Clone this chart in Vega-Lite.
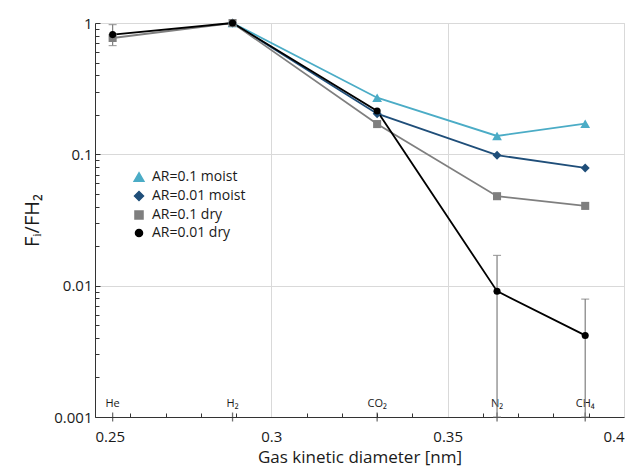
{
  "$schema": "https://vega.github.io/schema/vega-lite/v6.json",
  "width": 529,
  "height": 394,
  "autosize": {"type": "none"},
  "padding": {"left": 95, "top": 23, "right": 10, "bottom": 55},
  "config": {
    "font": "Open Sans",
    "view": {"stroke": "#d9d9d9", "strokeWidth": 1},
    "axis": {"gridColor": "#d9d9d9", "gridWidth": 1, "domainColor": "#333333", "tickColor": "#333333", "labelColor": "#1a1a1a", "titleColor": "#1a1a1a"}
  },
  "datasets": {
    "series": [
      {"gas": "H2", "x": 0.289, "y": 1.0, "series": "AR=0.1 moist"},
      {"gas": "CO2", "x": 0.33, "y": 0.27, "series": "AR=0.1 moist"},
      {"gas": "N2", "x": 0.364, "y": 0.138, "series": "AR=0.1 moist"},
      {"gas": "CH4", "x": 0.389, "y": 0.171, "series": "AR=0.1 moist"},
      {"gas": "H2", "x": 0.289, "y": 1.0, "series": "AR=0.01 moist"},
      {"gas": "CO2", "x": 0.33, "y": 0.204, "series": "AR=0.01 moist"},
      {"gas": "N2", "x": 0.364, "y": 0.0985, "series": "AR=0.01 moist"},
      {"gas": "CH4", "x": 0.389, "y": 0.0788, "series": "AR=0.01 moist"},
      {"gas": "He", "x": 0.255, "y": 0.769, "series": "AR=0.1 dry"},
      {"gas": "H2", "x": 0.289, "y": 1.0, "series": "AR=0.1 dry"},
      {"gas": "CO2", "x": 0.33, "y": 0.17, "series": "AR=0.1 dry"},
      {"gas": "N2", "x": 0.364, "y": 0.048, "series": "AR=0.1 dry"},
      {"gas": "CH4", "x": 0.389, "y": 0.0405, "series": "AR=0.1 dry"},
      {"gas": "He", "x": 0.255, "y": 0.816, "series": "AR=0.01 dry"},
      {"gas": "H2", "x": 0.289, "y": 1.0, "series": "AR=0.01 dry"},
      {"gas": "CO2", "x": 0.33, "y": 0.214, "series": "AR=0.01 dry"},
      {"gas": "N2", "x": 0.364, "y": 0.00908, "series": "AR=0.01 dry"},
      {"gas": "CH4", "x": 0.389, "y": 0.00418, "series": "AR=0.01 dry"}
    ],
    "errors": [
      {"x": 0.255, "lo": 0.673, "hi": 0.972},
      {"x": 0.289, "lo": 0.94, "hi": 1.0},
      {"x": 0.364, "lo": 0.001, "hi": 0.017},
      {"x": 0.389, "lo": 0.001, "hi": 0.0079}
    ],
    "gases": [
      {"x": 0.255, "label": "He"},
      {"x": 0.289, "label": "H₂"},
      {"x": 0.33, "label": "CO₂"},
      {"x": 0.364, "label": "N₂"},
      {"x": 0.389, "label": "CH₄"}
    ]
  },
  "layer": [
    {
      "data": {"name": "gases"},
      "mark": {"type": "tick", "orient": "vertical", "size": 9, "thickness": 1.3, "color": "#333333"},
      "encoding": {
        "x": {"field": "x", "type": "quantitative", "scale": {"domain": [0.25, 0.4], "nice": false, "zero": false},
          "axis": {"orient": "bottom", "values": [0.26, 0.27, 0.28, 0.29, 0.31, 0.32, 0.33, 0.34, 0.36, 0.37, 0.38, 0.39], "labels": false, "grid": false, "domain": false, "tickSize": -4, "title": null}},
        "y": {"datum": 0.001, "type": "quantitative", "scale": {"type": "log", "domain": [0.001, 1]},
          "axis": {"orient": "left", "values": [0.002, 0.003, 0.004, 0.005, 0.006, 0.007, 0.008, 0.009, 0.02, 0.03, 0.04, 0.05, 0.06, 0.07, 0.08, 0.09, 0.2, 0.3, 0.4, 0.5, 0.6, 0.7, 0.8, 0.9], "labels": false, "grid": false, "domain": false, "tickSize": -4, "title": null}}
      }
    },
    {
      "data": {"name": "gases"},
      "mark": {"type": "text", "dy": -13, "fontSize": 11, "color": "#1a1a1a", "baseline": "middle"},
      "encoding": {
        "x": {"field": "x", "type": "quantitative", "axis": {"orient": "bottom", "values": [0.25, 0.3, 0.35, 0.4], "format": "~g", "ticks": false, "grid": true, "labelFontSize": 15, "labelPadding": 12, "title": "Gas kinetic diameter [nm]", "titleFontSize": 17, "titleFontWeight": "normal", "titlePadding": 5}},
        "y": {"datum": 0.001, "type": "quantitative", "axis": {"orient": "left", "values": [0.001, 0.01, 0.1, 1], "format": ".3~f", "grid": true, "tickSize": -5, "labelFontSize": 15, "labelPadding": 8, "title": "Fᵢ/FH₂", "titleFontSize": 20, "titleFontWeight": "normal", "titleAngle": -90, "titleX": -63, "titleY": 197, "titleAlign": "center", "titleBaseline": "middle"}},
        "text": {"field": "label"}
      }
    },
    {
      "data": {"name": "errors"},
      "mark": {"type": "rule", "color": "#7f7f7f", "strokeWidth": 1.2},
      "encoding": {
        "x": {"field": "x", "type": "quantitative", "axis": null},
        "y": {"field": "lo", "type": "quantitative", "axis": null},
        "y2": {"field": "hi"}
      }
    },
    {
      "data": {"name": "errors"},
      "mark": {"type": "tick", "orient": "horizontal", "color": "#7f7f7f", "size": 8, "thickness": 1.2},
      "encoding": {
        "x": {"field": "x", "type": "quantitative", "axis": null},
        "y": {"field": "hi", "type": "quantitative", "axis": null}
      }
    },
    {
      "data": {"name": "errors"},
      "mark": {"type": "tick", "orient": "horizontal", "color": "#7f7f7f", "size": 8, "thickness": 1.2},
      "encoding": {
        "x": {"field": "x", "type": "quantitative", "axis": null},
        "y": {"field": "lo", "type": "quantitative", "axis": null}
      }
    },
    {
      "data": {"name": "series"},
      "mark": {"type": "line", "strokeWidth": 1.8},
      "encoding": {
        "x": {"field": "x", "type": "quantitative", "axis": null},
        "y": {"field": "y", "type": "quantitative", "axis": null},
        "color": {"field": "series", "type": "nominal",
          "scale": {"domain": ["AR=0.1 moist", "AR=0.01 moist", "AR=0.1 dry", "AR=0.01 dry"], "range": ["#4bacc6", "#1f4e79", "#7f7f7f", "#000000"]}},
        "order": {"field": "x", "type": "quantitative"}
      }
    },
    {
      "data": {"name": "series"},
      "mark": {"type": "point", "filled": true, "opacity": 1},
      "encoding": {
        "x": {"field": "x", "type": "quantitative", "axis": null},
        "y": {"field": "y", "type": "quantitative", "axis": null},
        "shape": {"field": "series", "type": "nominal", "legend": null,
          "scale": {"domain": ["AR=0.1 moist", "AR=0.01 moist", "AR=0.1 dry", "AR=0.01 dry"], "range": ["triangle-up", "diamond", "square", "circle"]}},
        "size": {"field": "series", "type": "nominal", "legend": null,
          "scale": {"domain": ["AR=0.1 moist", "AR=0.01 moist", "AR=0.1 dry", "AR=0.01 dry"], "range": [95, 50, 65, 110]}},
        "color": {"field": "series", "type": "nominal",
          "scale": {"domain": ["AR=0.1 moist", "AR=0.01 moist", "AR=0.1 dry", "AR=0.01 dry"], "range": ["#4bacc6", "#1f4e79", "#7f7f7f", "#000000"]},
          "legend": {"orient": "none", "legendX": 37, "legendY": 147, "title": null, "labelFontSize": 14, "labelColor": "#1a1a1a", "rowPadding": 3, "padding": 0, "labelOffset": 6}}
      }
    }
  ],
  "resolve": {"axis": {"x": "independent", "y": "independent"}}
}
